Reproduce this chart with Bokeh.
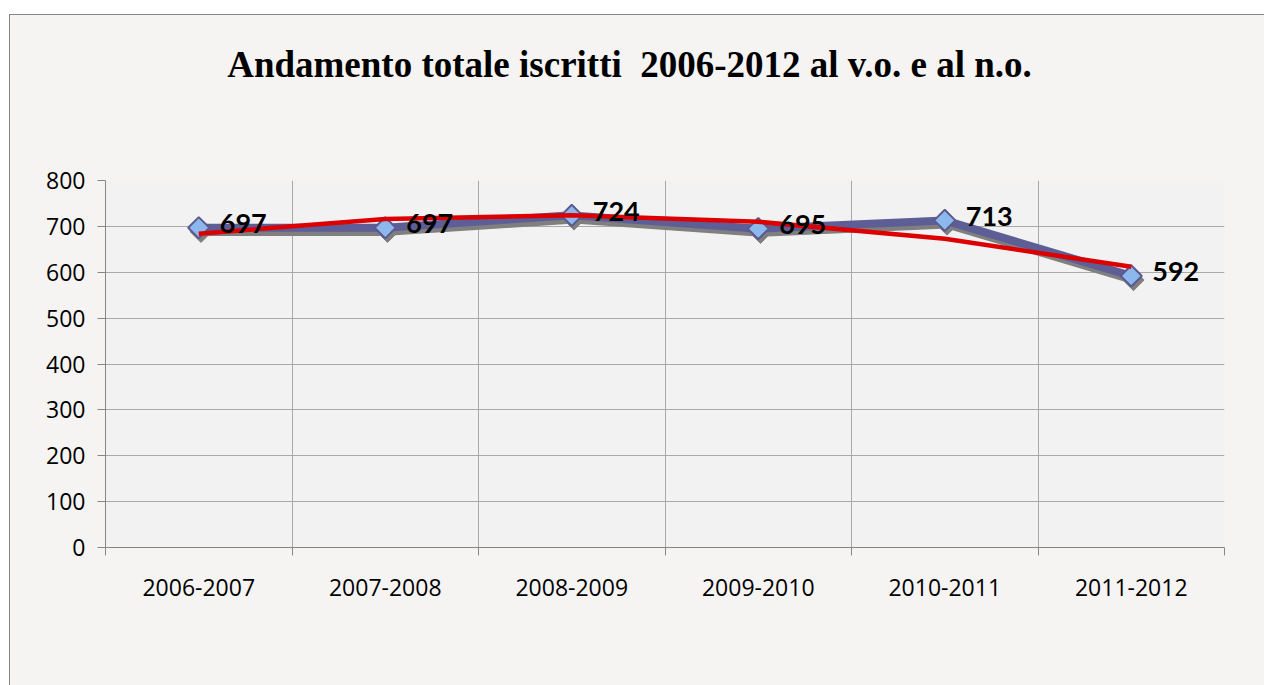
from bokeh.plotting import figure
from bokeh.models import FixedTicker, ColumnDataSource, Range1d, Column
from bokeh.core.properties import value
from bokeh.embed import file_html
from bokeh.resources import INLINE
import math

categories = ["2006-2007", "2007-2008", "2008-2009", "2009-2010", "2010-2011", "2011-2012"]
iscritti = [697, 697, 724, 695, 713, 592]
trend = [684, 716, 724, 710, 673, 612]
y_ticks = [0, 100, 200, 300, 400, 500, 600, 700, 800]
title_text = "Andamento totale iscritti\u00a0 2006-2012 al v.o. e al n.o."

xs = list(range(1, len(categories) + 1))

CHART_BG = "#F5F4F3"
PLOT_BG = "#F2F2F2"
W = 1254
T = 150
H2 = 520
ML, MR, MT, MB = 95, 40, 15, 138

# ---- title strip (its frame is aligned with the chart's frame) ----
top = figure(width=W, height=T, output_backend="svg", toolbar_location=None,
             x_range=Range1d(105, 1224), y_range=Range1d(165, 30),
             x_axis_location=None, y_axis_location=None,
             min_border_left=ML, min_border_right=MR, min_border_top=MT, min_border_bottom=0)
top.grid.visible = False
top.outline_line_color = None
top.background_fill_color = CHART_BG
top.border_fill_color = CHART_BG
top.text([629], [64], text=[title_text], text_font=value("Liberation Serif"),
         text_font_style="bold", text_font_size="37px", text_color="#000000",
         text_align="center", text_baseline="alphabetic")

# ---- main chart ----
p = figure(width=W, height=H2, output_backend="svg", toolbar_location=None,
           x_range=(0.5, len(categories) + 0.5), y_range=(0, 800),
           min_border_left=ML, min_border_right=MR, min_border_top=MT, min_border_bottom=MB)

p.background_fill_color = PLOT_BG
p.border_fill_color = CHART_BG
p.outline_line_color = None

p.xgrid.ticker = FixedTicker(ticks=[i + 0.5 for i in range(len(categories) + 1)])
p.ygrid.ticker = FixedTicker(ticks=y_ticks)
p.xgrid.grid_line_color = "#A9A9A9"
p.ygrid.grid_line_color = "#A9A9A9"

p.xaxis.ticker = FixedTicker(ticks=xs, minor_ticks=[i + 0.5 for i in range(len(categories) + 1)])
p.xaxis.major_label_overrides = {i + 1: c for i, c in enumerate(categories)}
p.xaxis.major_tick_line_color = None
p.xaxis.major_tick_out = 0
p.xaxis.major_tick_in = 0
p.xaxis.minor_tick_out = 8
p.xaxis.minor_tick_in = 0
p.xaxis.minor_tick_line_color = "#868686"
p.xaxis.axis_line_color = "#868686"
p.xaxis.major_label_standoff = 23
p.xaxis.major_label_text_font = "Open Sans"
p.xaxis.major_label_text_font_size = "23px"
p.xaxis.major_label_text_color = "#000000"

p.yaxis.ticker = FixedTicker(ticks=y_ticks)
p.yaxis.major_tick_out = 8
p.yaxis.major_tick_in = 0
p.yaxis.minor_tick_line_color = None
p.yaxis.major_tick_line_color = "#868686"
p.yaxis.axis_line_color = "#868686"
p.yaxis.major_label_standoff = 12
p.yaxis.major_label_text_font = "Open Sans"
p.yaxis.major_label_text_font_size = "23px"
p.yaxis.major_label_text_color = "#000000"

# shadow of the series
dx = 0.012
dy = 9
sx = [x + dx for x in xs]
sy = [v - dy for v in iscritti]
p.line(sx, sy, line_color="#7F7F7F", line_width=8, line_join="round")
p.scatter(sx, sy, marker="square", angle=math.pi / 4, size=15,
          fill_color="#7F7F7F", line_color="#7F7F7F")

# main series
p.line(xs, iscritti, line_color="#5E5E96", line_width=8, line_join="round")
p.scatter(xs, iscritti, marker="square", angle=math.pi / 4, size=15,
          fill_color="#8DB8EE", line_color="#5A5A8E", line_width=2)

# trendline
p.line(xs, trend, line_color="#DC0000", line_width=4.5)

# data labels
src = ColumnDataSource(dict(x=xs, y=iscritti, t=[str(v) for v in iscritti]))
p.text("x", "y", text="t", source=src, x_offset=21, y_offset=-4,
       text_font=value("Lato"), text_font_style="bold", text_font_size="27px",
       text_color="#000000", text_baseline="middle", text_align="left")

layout = Column(children=[top, p], spacing=0, margin=(14, 0, 0, 9),
                styles={"border-left": "1px solid #878787", "border-top": "1px solid #878787",
                        "background-color": CHART_BG})

open("out.html", "w").write(file_html(layout, INLINE))
